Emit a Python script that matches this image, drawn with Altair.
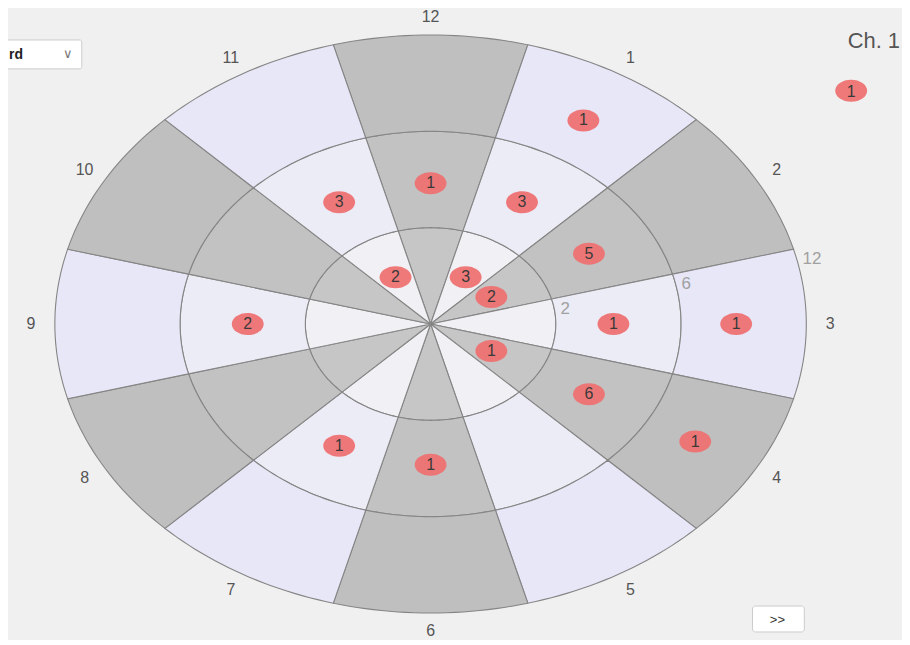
import altair as alt
import pandas as pd

# ---- data ----
hours = [12, 1, 2, 3, 4, 5, 6, 7, 8, 9, 10, 11]
ring_labels = ["2", "6", "12"]          # ring boundaries (inner, middle, outer)
# markers: clock hour, ring index (0 inner, 1 middle, 2 outer), count
m_hour = [1, 12, 11, 1, 2, 3, 3, 4, 4, 6, 7, 9, 11, 1, 2, 4]
m_ring = [2, 1, 1, 1, 1, 1, 2, 1, 2, 1, 1, 1, 0, 0, 0, 0]
m_count = [1, 1, 3, 3, 5, 1, 1, 6, 1, 1, 1, 2, 2, 3, 2, 1]
legend_title = "Ch. 1"
legend_value = [1]

N = 24  # arc samples per edge
gray_cols = ["#c6c6c6", "#c2c2c2", "#bfbfbf"]
lav_cols = ["#f1f1f5", "#ececf6", "#e7e7f8"]

cells = []
for h in hours:
    for j in range(3):
        col = gray_cols[j] if h % 2 == 0 else lav_cols[j]
        for k in range(2 * N + 2):
            cells.append({"hour": h, "ring": j, "k": k, "cell": f"{h}-{j}", "col": col})
cells_df = pd.DataFrame(cells)

X = alt.Scale(domain=[-3, 3], nice=False, zero=False)
Y = alt.Scale(domain=[-3, 3], nice=False, zero=False)

base_cells = alt.Chart(cells_df).transform_calculate(
    side=f"datum.k <= {N} ? 1 : 0",
    t=f"datum.k <= {N} ? datum.k / {N} : ({2*N+1} - datum.k) / {N}",
    ang="(datum.hour * 30 - 15 + 30 * datum.t) * PI / 180",
    rr="datum.ring + datum.side",
    px="datum.rr * sin(datum.ang)",
    py="datum.rr * cos(datum.ang)",
)

fills = base_cells.mark_line(filled=True, stroke="#858585", strokeWidth=1.1, interpolate="linear-closed").encode(
    x=alt.X("px:Q", scale=X, axis=None),
    y=alt.Y("py:Q", scale=Y, axis=None),
    detail="cell:N",
    order="k:Q",
    color=alt.Color("col:N", scale=None),
)

# hour labels
hl_df = pd.DataFrame({"hour": hours})
hour_text = alt.Chart(hl_df).transform_calculate(
    ang="datum.hour * 30 * PI / 180",
    px="3.19 * sin(datum.ang)",
    py="3.19 * cos(datum.ang)",
    lab="toString(datum.hour)",
).mark_text(fontSize=16, color="#555555", font="Arial").encode(
    x=alt.X("px:Q", scale=X, axis=None),
    y=alt.Y("py:Q", scale=Y, axis=None),
    text="lab:N",
)

# ring labels at 75 degrees
rl_df = pd.DataFrame({"lab": ring_labels, "r": [1, 2, 3]})
ring_text = alt.Chart(rl_df).transform_calculate(
    px="datum.r * sin(75 * PI / 180)",
    py="datum.r * cos(75 * PI / 180)",
).mark_text(fontSize=17, color="#a0a0a0", align="left", dx=9, dy=10, font="Arial").encode(
    x=alt.X("px:Q", scale=X, axis=None),
    y=alt.Y("py:Q", scale=Y, axis=None),
    text="lab:N",
)

ELL = "M-1,0A1,0.69,0,1,1,1,0A1,0.69,0,1,1,-1,0Z"

# markers
mk_df = pd.DataFrame({"hour": m_hour, "ring": m_ring, "count": m_count})
ring_pos = "[0.56, 1.46, 2.44][datum.ring]"
mk_base = alt.Chart(mk_df).transform_calculate(
    ang="datum.hour * 30 * PI / 180",
    rp=ring_pos,
    px="datum.rp * sin(datum.ang)",
    py="datum.rp * cos(datum.ang)",
)
mk_enc = dict(x=alt.X("px:Q", scale=X, axis=None), y=alt.Y("py:Q", scale=Y, axis=None))
markers = mk_base.mark_point(
    shape=ELL, size=1024, filled=True, color="#ee7272", opacity=0.95, strokeWidth=0,
).encode(**mk_enc)
marker_text = mk_base.mark_text(fontSize=16, color="#3a3a3a", font="Arial").encode(
    text="count:N", **mk_enc
)

# legend (pixel-placed decorations)
lg_df = pd.DataFrame({"v": legend_value})
leg_title = alt.Chart(pd.DataFrame({"t": [legend_title]})).mark_text(
    fontSize=22, color="#555555", align="right", font="Arial"
).encode(x=alt.value(848), y=alt.value(6), text="t:N")
leg_mark = alt.Chart(lg_df).mark_point(
    shape=ELL, size=1024, filled=True, color="#ee7272", opacity=0.95, strokeWidth=0,
).encode(x=alt.value(799), y=alt.value(56))
leg_text = alt.Chart(lg_df).mark_text(fontSize=16, color="#3a3a3a", font="Arial").encode(
    x=alt.value(799), y=alt.value(57), text="v:N"
)

# dropdown (cut off at left) and next button
dd_box = alt.Chart(pd.DataFrame({"a": [0]})).mark_rect(
    fill="white", stroke="#cccccc", cornerRadius=2
).encode(x=alt.value(-60), x2=alt.value(27), y=alt.value(5), y2=alt.value(34))
dd_text = alt.Chart(pd.DataFrame({"t": ["rd"]})).mark_text(
    fontSize=14, color="#222222", align="left", font="Arial", fontWeight="bold"
).encode(x=alt.value(-46), y=alt.value(20), text="t:N")
dd_chev = alt.Chart(pd.DataFrame({"t": ["\u2228"]})).mark_text(
    fontSize=13, color="#777777", font="Arial"
).encode(x=alt.value(13), y=alt.value(19), text="t:N")
btn_box = alt.Chart(pd.DataFrame({"a": [0]})).mark_rect(
    fill="white", stroke="#cccccc", cornerRadius=3
).encode(x=alt.value(700), x2=alt.value(752), y=alt.value(573), y2=alt.value(599))
btn_text = alt.Chart(pd.DataFrame({"t": [">>"]})).mark_text(
    fontSize=13, color="#333333", font="Arial"
).encode(x=alt.value(725), y=alt.value(587), text="t:N")

chart = alt.layer(
    fills, ring_text, hour_text, markers, marker_text,
    leg_title, leg_mark, leg_text, dd_box, dd_text, dd_chev, btn_box, btn_text,
).properties(
    width=754, height=580,
    padding={"left": 47, "top": 26, "right": 96, "bottom": 26},
    autosize=alt.AutoSizeParams(type="none"),
    background="#f0f0f0",
).configure_view(stroke=None, clip=False)

chart.save("out.html", embed_options={"renderer": "svg", "actions": False})
